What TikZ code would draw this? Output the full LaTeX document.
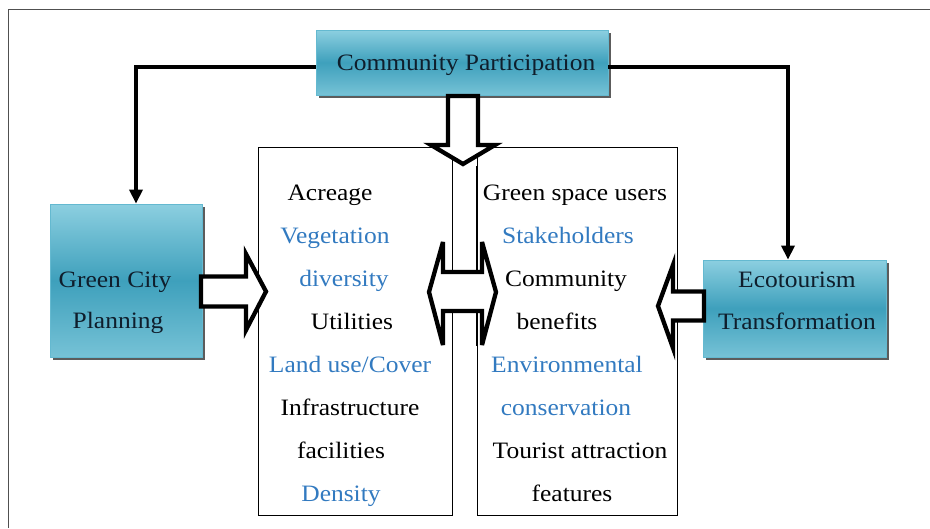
\documentclass[tikz,border=0pt]{standalone}
\usepackage{fontspec}
\setmainfont{Liberation Serif}
\usepackage{graphicx}
\usetikzlibrary{shadows,calc,arrows.meta}
\definecolor{bluetxt}{RGB}{50,122,192}
\definecolor{tealtop}{RGB}{140,207,224}
\definecolor{tealmid}{RGB}{62,160,188}
\definecolor{tealbot}{RGB}{118,194,214}
\definecolor{tealedge}{RGB}{100,185,208}
\definecolor{boxtxt}{RGB}{15,30,44}
\definecolor{framegray}{RGB}{80,80,80}
\newcommand{\wtxt}[1]{\scalebox{1.085}[1]{#1}}
\begin{document}
\begin{tikzpicture}[x=1pt,y=-1pt,
  tealbox/.style={rectangle, draw=tealedge, line width=0.8pt, top color=tealtop, bottom color=tealbot, middle color=tealmid, drop shadow={shadow xshift=2.5pt, shadow yshift=-2.5pt, fill=black!80, opacity=0.8}, inner sep=0pt},
  listbox/.style={rectangle, draw=black, line width=1pt, inner sep=0pt},
  txt/.style={anchor=base, inner sep=0pt, font=\fontsize{23.5}{28}\selectfont},
  blk/.style={txt, text=black},
  blu/.style={txt, text=bluetxt},
  btx/.style={txt, text=boxtxt},
  conn/.style={line width=3.8pt, -{Triangle[length=14pt,width=13pt]}},
  blockarrow/.style={draw=black, line width=4.3pt, fill=white, line join=miter, miter limit=6},
  edgeline/.style={draw=black, line width=1pt},
]
\useasboundingbox (0,0) rectangle (930,528);
% outer frame (cropped at right and bottom)
\draw[framegray, line width=1.5pt] (8.5,528) -- (8.5,9.5) -- (930,9.5);

% list boxes
\node[listbox, minimum width=194pt, minimum height=368pt] (lb) at (355,331) {};
\node[listbox, minimum width=200pt, minimum height=368pt] (rb) at (577,331) {};

% coloured boxes
\node[tealbox, minimum width=292pt, minimum height=65pt] (cp) at (462,62.5) {};
\node[tealbox, minimum width=152pt, minimum height=153pt] (gcp) at (126,280.5) {};
\node[tealbox, minimum width=183pt, minimum height=97pt] (et) at (794.5,308.5) {};

\node[btx] (cpt) at (466,70) {\wtxt{Community Participation}};
\node[btx] (gcp1) at (115,287) {\wtxt{Green City}};
\node[btx] (gcp2) at (118,328) {\wtxt{Planning}};
\node[btx] (et1) at (797,287) {\wtxt{Ecotourism}};
\node[btx] (et2) at (797,329) {\wtxt{Transformation}};

% connectors
\draw[conn] ([yshift=-4.5pt]cp.west) -| ([xshift=10pt]gcp.north);
\draw[conn] ([yshift=-4.5pt]cp.east) -| ([xshift=-6.5pt]et.north);

% block arrows
\path[blockarrow] (448,96) -- (448,145) -- (431,145) -- (463,164) -- (495,145) -- (478,145) -- (478,96) -- cycle;
\path[blockarrow] (201,276.5) -- (246,276.5) -- (246,254) -- (266,291.5) -- (246,330) -- (246,306.5) -- (201,306.5) -- cycle;
\path[blockarrow] (704,291.5) -- (673,291.5) -- (673,265) -- (658,306) -- (673,348) -- (673,320.5) -- (704,320.5) -- cycle;
\path[blockarrow] (443,272) -- (443,242) -- (429,292) -- (443,345) -- (443,311) -- (482,311) -- (482,345) -- (496,292) -- (482,242) -- (482,272) -- cycle;
% box edges seen through the double arrow heads
\draw[edgeline] (lb.east |- 0,166) -- (lb.east |- 0,272);
\draw[edgeline] (lb.east |- 0,311) -- (lb.east |- 0,346);
\draw[edgeline] (rb.west |- 0,166) -- (rb.west |- 0,272);
\draw[edgeline] (rb.west |- 0,311) -- (rb.west |- 0,346);

% left list
\node[blk] (l1) at (330,200) {\wtxt{Acreage}};
\node[blu] (l2) at (335,243) {\wtxt{Vegetation}};
\node[blu] (l3) at (344,286) {\wtxt{diversity}};
\node[blk] (l4) at (352,329) {\wtxt{Utilities}};
\node[blu] (l5) at (350,372) {\wtxt{Land use/Cover}};
\node[blk] (l6) at (350,415) {\wtxt{Infrastructure}};
\node[blk] (l7) at (341,458) {\wtxt{facilities}};
\node[blu] (l8) at (341,501) {\wtxt{Density}};

% right list
\node[blk] (r1) at (575,200) {\wtxt{Green space users}};
\node[blu] (r2) at (568,243) {\wtxt{Stakeholders}};
\node[blk] (r3) at (566,286) {\wtxt{Community}};
\node[blk] (r4) at (557,329) {\wtxt{benefits}};
\node[blu] (r5) at (567,372) {\wtxt{Environmental}};
\node[blu] (r6) at (566,415) {\wtxt{conservation}};
\node[blk] (r7) at (580,458) {\wtxt{Tourist attraction}};
\node[blk] (r8) at (572,501) {\wtxt{features}};
\end{tikzpicture}
\end{document}
